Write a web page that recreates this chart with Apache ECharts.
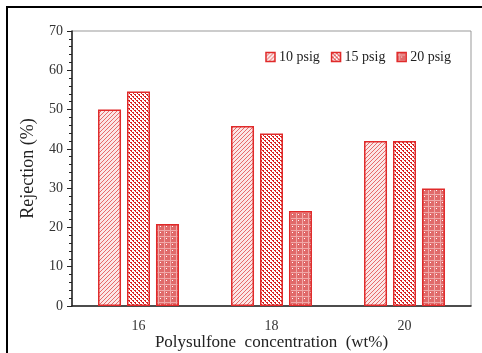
<!DOCTYPE html>
<html>
<head>
<meta charset="utf-8">
<script src="https://cdn.jsdelivr.net/npm/echarts@6/dist/echarts.min.js"></script>
<style>
  html, body { margin: 0; padding: 0; background: #fff; }
  #chart { width: 482px; height: 353px; }
</style>
</head>
<body>
<div id="chart"></div>
<script>
var categories = ['16', '18', '20'];
var seriesNames = ['10 psig', '15 psig', '20 psig'];
var psig10 = [50.0, 45.8, 42.0];
var psig15 = [54.6, 43.9, 42.0];
var psig20 = [20.9, 24.2, 29.9];
var yTicks = [0, 10, 20, 30, 40, 50, 60, 70];

// small canvas tiles used as fill patterns
function makeTile(size, draw) {
  var c = document.createElement('canvas');
  c.width = size; c.height = size;
  var ctx = c.getContext('2d');
  draw(ctx, size);
  return c;
}

var hatch = makeTile(4, function(ctx, s) {
  ctx.fillStyle = '#fbe6e6';
  ctx.fillRect(0, 0, s, s);
  ctx.fillStyle = '#e66a6a';
  for (var i = 0; i < s; i++) {
    ctx.fillRect(i, s - 1 - i, 1, 1);
  }
});

var dots = makeTile(4, function(ctx, s) {
  ctx.fillStyle = '#ffffff';
  ctx.fillRect(0, 0, s, s);
  ctx.fillStyle = '#d91f1f';
  ctx.fillRect(0, 0, 2, 1);
  ctx.fillRect(1, 1, 1, 1);
  ctx.fillRect(2, 2, 2, 1);
  ctx.fillRect(3, 3, 1, 1);
});

var grid = makeTile(6, function(ctx, s) {
  ctx.fillStyle = '#e06a6a';
  ctx.fillRect(0, 0, s, s);
  ctx.fillStyle = '#f0a8a8';
  ctx.fillRect(0, 2, s, 1);
  ctx.fillRect(2, 0, 1, s);
  ctx.fillStyle = '#ffffff';
  ctx.fillRect(4, 4, 1, 1);
});

var patterns = [hatch, dots, grid];
var values = [psig10, psig15, psig20];

var font = '"Liberation Serif", "Times New Roman", serif';

var series = seriesNames.map(function(name, i) {
  return {
    name: name,
    type: 'bar',
    barWidth: 23,
    barGap: '26%',
    itemStyle: {
      color: { image: patterns[i], repeat: 'repeat' },
      borderColor: '#e02a2a',
      borderWidth: 1.5
    },
    data: values[i]
  };
});

var myChart = echarts.init(document.getElementById('chart'));

var option = {
  animation: false,
  backgroundColor: '#ffffff',
  graphic: [{
    type: 'rect',
    shape: { x: 7, y: 7, width: 700, height: 700 },
    style: { fill: 'none', stroke: '#000', lineWidth: 2 },
    silent: true
  }],
  legend: {
    top: 45,
    right: 26,
    icon: 'rect',
    itemWidth: 9,
    itemHeight: 9,
    itemGap: 11,
    itemStyle: { borderColor: '#e02a2a', borderWidth: 1.5 },
    textStyle: { fontFamily: font, fontSize: 14, color: '#222', padding: [0, 0, 0, -1] },
    data: seriesNames
  },
  grid: {
    left: 72, top: 31, right: 11, bottom: 47,
    outerBoundsMode: 'none',
    containLabel: false,
    show: true,
    borderColor: '#999',
    borderWidth: 1
  },
  xAxis: {
    type: 'category',
    data: categories,
    name: 'Polysulfone  concentration  (wt%)',
    nameLocation: 'middle',
    nameGap: 28,
    nameMoveOverlap: false,
    nameTextStyle: { fontFamily: font, fontSize: 17, color: '#222' },
    axisLine: { lineStyle: { color: '#222', width: 1.5 } },
    axisTick: { show: false },
    axisLabel: { fontFamily: font, fontSize: 14, color: '#333', margin: 13 }
  },
  yAxis: {
    type: 'value',
    min: yTicks[0],
    max: yTicks[yTicks.length - 1],
    interval: 10,
    name: 'Rejection (%)',
    nameLocation: 'middle',
    nameGap: 35,
    nameMoveOverlap: false,
    nameTextStyle: { fontFamily: font, fontSize: 18, color: '#222' },
    axisLine: { show: true, lineStyle: { color: '#222', width: 1.5 } },
    axisTick: { show: true, length: 5, lineStyle: { color: '#222' } },
    minorTick: { show: true, splitNumber: 5, length: 3, lineStyle: { color: '#222' } },
    splitLine: { show: false },
    axisLabel: { fontFamily: font, fontSize: 14, color: '#333', margin: 9 }
  },
  series: series
};

myChart.setOption(option);
</script>
</body>
</html>
